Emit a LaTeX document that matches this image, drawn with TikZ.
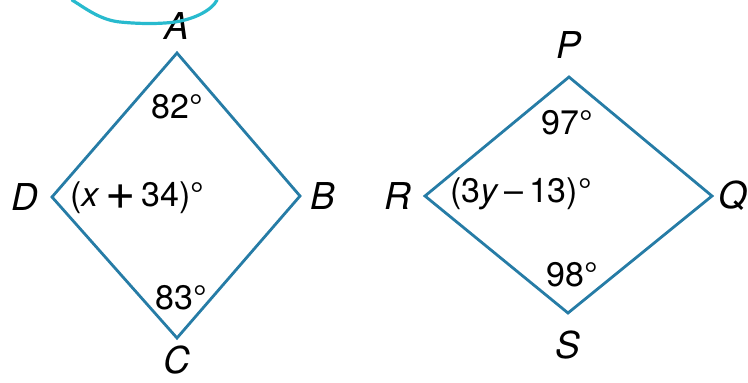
\documentclass[tikz,border=0pt]{standalone}
\usepackage{fontspec}
\setmainfont{TeX Gyre Heros}
\usepackage{xcolor}
\usetikzlibrary{positioning}

\definecolor{edgeblue}{RGB}{38,124,166}
\definecolor{penteal}{RGB}{40,186,206}

\newcommand{\bigplus}{\raisebox{-3pt}{\fontsize{52}{52}\selectfont +}}

\begin{document}
\begin{tikzpicture}[
      x=1pt, y=-1pt,
      side/.style={line width=2.8pt, edgeblue, line join=miter},
      vlabel/.style={font=\fontsize{37}{40}\selectfont\itshape, inner sep=0pt},
      angle/.style={font=\fontsize{34}{38}\selectfont, inner sep=0pt},
      scribble/.style={line width=3.2pt, penteal, line cap=round}
    ]
    \useasboundingbox (0,0) rectangle (748,383);

    % left quadrilateral
    \coordinate (A) at (177,53);
    \coordinate (B) at (300,196);
    \coordinate (C) at (177,338);
    \coordinate (D) at (52,197);

    % right quadrilateral
    \coordinate (P) at (569,77);
    \coordinate (Q) at (712,196);
    \coordinate (S) at (568,313);
    \coordinate (R) at (425,196);

    \draw[side] (A) -- (B) -- (C) -- (D) -- cycle;
    \draw[side] (P) -- (Q) -- (S) -- (R) -- cycle;

    \node[vlabel, above=13pt of A] (labA) {A};
    \node[vlabel, right=10pt of B] (labB) {B};
    \node[vlabel, below=8pt of C] (labC) {C};
    \node[vlabel, left=14pt of D] (labD) {D};

    \node[vlabel, above=18pt of P] (labP) {P};
    \node[vlabel, right=6pt of Q] (labQ) {Q};
    \node[vlabel, below=18pt of S] (labS) {S};
    \node[vlabel, left=14pt of R] (labR) {R};

    \node[angle] (angA) at (177,107) {82°};
    \node[angle] (angD) at (137,198) {(\textit{x}\,\bigplus\,34)°};
    \node[angle] (angC) at (181,298) {83°};

    \node[angle] (angP) at (567,123) {97°};
    \node[angle] (angR) at (521,194) {(3\textit{y}\,–\,13)°};
    \node[angle] (angS) at (572,275) {98°};

    % pen mark at the top
    \draw[scribble] (72,0) .. controls (85,8) and (100,20) .. (120,22)
      .. controls (140,24) and (160,24) .. (175,22)
      .. controls (195,19) and (212,10) .. (217,0);
  \end{tikzpicture}
\end{document}
